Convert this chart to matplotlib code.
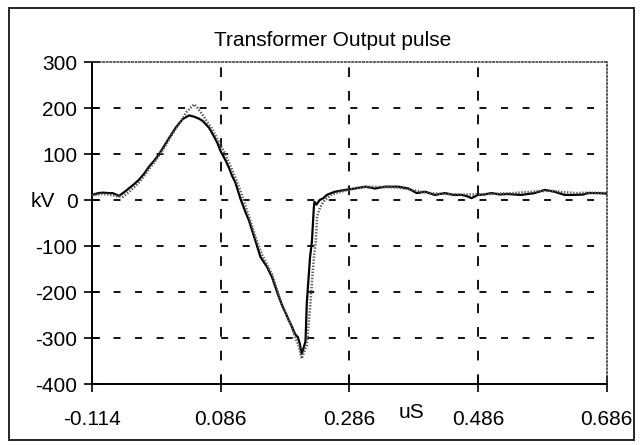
import matplotlib
matplotlib.use("Agg")
import matplotlib.pyplot as plt
from matplotlib.patches import Rectangle

plt.rcParams['font.family'] = ['Liberation Sans', 'DejaVu Sans']
plt.rcParams['lines.scale_dashes'] = False

# measured transformer output (solid black), time in uS, voltage in kV
t_meas = [-0.114, -0.104, -0.097, -0.088, -0.082, -0.072, -0.064, -0.056, -0.048,
          -0.041, -0.033, -0.025, -0.017, -0.010, -0.002, 0.006, 0.016, 0.027,
          0.037, 0.045, 0.052, 0.058, 0.068, 0.075, 0.081, 0.086, 0.093, 0.099,
          0.104, 0.109, 0.117, 0.124, 0.130, 0.140, 0.148, 0.158, 0.166, 0.175,
          0.181, 0.190, 0.197, 0.202, 0.206, 0.209, 0.212, 0.215, 0.218, 0.220,
          0.225, 0.228, 0.231, 0.232, 0.235, 0.240, 0.246, 0.251, 0.258, 0.264,
          0.280, 0.295, 0.311, 0.326, 0.342, 0.362, 0.378, 0.391, 0.404, 0.419,
          0.435, 0.448, 0.461, 0.470, 0.476, 0.486, 0.496, 0.507, 0.520, 0.533,
          0.553, 0.574, 0.590, 0.605, 0.621, 0.636, 0.650, 0.657, 0.672, 0.686]
kv_meas = [11, 15, 16, 15, 15, 9, 17, 26, 35,
           44, 57, 73, 86, 99, 117, 135, 157, 176,
           184, 181, 177, 172, 157, 140, 124, 106, 88, 70,
           52, 38, 2, -24, -44, -88, -124, -145, -168, -205,
           -227, -255, -276, -292, -298, -312, -335, -322, -307, -224,
           -125, -89, -15, -4, -10, 0, 4, 11, 15, 18,
           22, 25, 29, 25, 29, 29, 25, 15, 18, 11,
           15, 11, 11, 8, 4, 11, 12, 15, 12, 13,
           11, 15, 22, 18, 11, 11, 12, 15, 15, 14]

# simulated pulse (dotted)
t_sim = [-0.114, -0.100, -0.088, -0.075, -0.066, -0.056, -0.048, -0.041, -0.033,
         -0.025, -0.017, -0.010, -0.002, 0.006, 0.016, 0.027, 0.032, 0.039,
         0.045, 0.050, 0.058, 0.066, 0.073, 0.081, 0.091, 0.100, 0.110, 0.118,
         0.125, 0.133, 0.142, 0.150, 0.158, 0.166, 0.175, 0.181, 0.190, 0.197,
         0.202, 0.207, 0.212, 0.216, 0.220, 0.225, 0.231, 0.234, 0.236, 0.241,
         0.248, 0.258, 0.270, 0.285, 0.300, 0.320, 0.340, 0.360, 0.375, 0.390,
         0.405, 0.420, 0.440, 0.460, 0.480, 0.500, 0.520, 0.540, 0.560, 0.580,
         0.600, 0.620, 0.640, 0.660, 0.686]
kv_sim = [10, 13, 12, 8, 7, 18, 28, 38, 52,
          68, 82, 96, 113, 132, 154, 177, 190, 200,
          208, 200, 185, 168, 154, 132, 106, 78, 45, 15,
          -15, -48, -88, -118, -140, -162, -200, -227, -255, -278,
          -300, -315, -345, -330, -315, -235, -125, -89, -36, -15,
          0, 11, 17, 22, 27, 29, 28, 27, 24, 20,
          16, 14, 13, 12, 12, 13, 14, 15, 17, 19,
          20, 17, 15, 16, 15]

x_ticks = [-0.114, 0.086, 0.286, 0.486, 0.686]
x_labels = ['-0.114', '0.086', '0.286', '0.486', '0.686']
y_ticks = [-400, -300, -200, -100, 0, 100, 200, 300]
y_labels = ['-400', '-300', '-200', '-100', '0', '100', '200', '300']

W, H = 642, 445
fig = plt.figure(figsize=(W / 100, H / 100), dpi=100)
ax = fig.add_axes([92 / W, 1 - 384 / H, (606.5 - 92) / W, (384 - 62) / H])

# inner dashed grid
for y in y_ticks[1:-1]:
    ax.axhline(y, color='black', lw=1.3, linestyle=(0, (5, 10.5)), zorder=1)
for x in x_ticks[1:-1]:
    ax.axvline(x, color='black', lw=1.3, linestyle=(0, (7, 10)), zorder=1)

ax.plot(t_sim, kv_sim, color='0.35', lw=1.8, linestyle=(0, (1, 1.2)), zorder=3)
ax.plot(t_meas, kv_meas, color='black', lw=1.6, zorder=2)

ax.set_xlim(-0.114, 0.686)
ax.set_ylim(-400, 300)
ax.set_xticks(x_ticks)
ax.set_xticklabels(x_labels)
ax.set_yticks(y_ticks)
ax.set_yticklabels(y_labels)
ax.tick_params(direction='inout', length=11, width=1.2, labelsize=15, colors='black')
ax.tick_params(axis='x', pad=13)
ax.tick_params(axis='y', pad=5)

for s in ['left', 'bottom']:
    ax.spines[s].set_linewidth(1.4)
for s in ['top', 'right']:
    ax.spines[s].set_linestyle((0, (1, 1.6)))
    ax.spines[s].set_linewidth(1.1)
    ax.spines[s].set_edgecolor('0.2')

fig.text(333 / W, 1 - 40 / H, 'Transformer Output pulse', ha='center', va='center', fontsize=15)
fig.text(43 / W, 1 - 201 / H, 'kV', ha='center', va='center', fontsize=15)
fig.text(411 / W, 1 - 413 / H, 'uS', ha='center', va='center', fontsize=15)

# outer frame
fig.add_artist(Rectangle((9 / W, 1 - 440 / H), (634 - 9) / W, (440 - 8) / H,
                         transform=fig.transFigure, fill=False, lw=1.4, edgecolor='0.15'))

fig.savefig('out.png', dpi=100)
